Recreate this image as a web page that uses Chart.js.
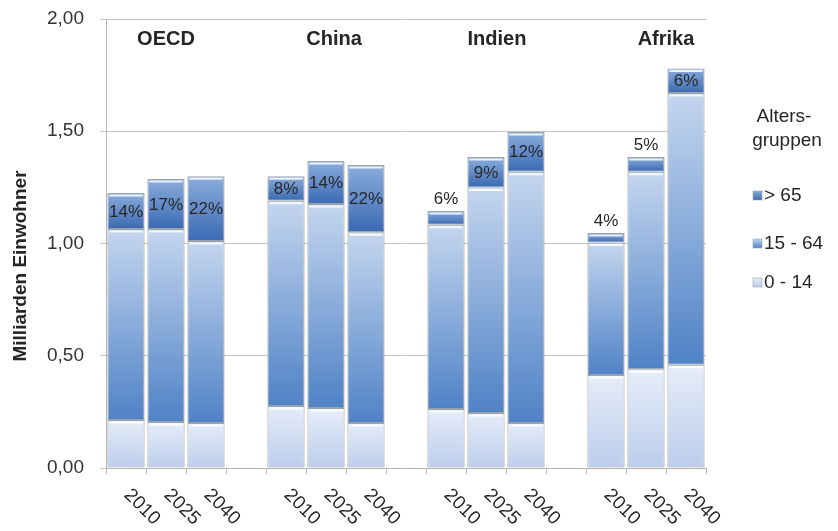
<!DOCTYPE html>
<html>
<head>
<meta charset="utf-8">
<script src="https://cdn.jsdelivr.net/npm/chart.js@4/dist/chart.umd.min.js"></script>
<style>
html,body{margin:0;padding:0;background:#fff;}
#wrap{width:838px;height:531px;position:relative;}
</style>
</head>
<body>
<div id="wrap"><canvas id="c" width="838" height="531"></canvas></div>
<script>
// ---- data ----
const categories = ["2010","2025","2040","","2010","2025","2040","","2010","2025","2040","","2010","2025","2040"];
const regions = ["OECD","China","Indien","Afrika"];
const age0to14  = [0.214,0.205,0.200,null,0.276,0.267,0.200,null,0.263,0.245,0.200,null,0.414,0.440,0.460];
const age15to64 = [0.851,0.860,0.811,null,0.914,0.909,0.850,null,0.820,1.005,1.120,null,0.591,0.880,1.210];
const age65plus = [0.160,0.222,0.289,null,0.110,0.191,0.300,null,0.062,0.135,0.177,null,0.042,0.065,0.110];
const shareLabels = ["14%","17%","22%","","8%","14%","22%","","6%","9%","12%","","4%","5%","6%"];
const seriesNames = ["0 - 14","15 - 64","> 65"];
const yTicks = [0,0.5,1,1.5,2];

function segGrad(top, bottom){
  return (ctx) => {
    const chart = ctx.chart; const y = chart.scales && chart.scales.y;
    if (!y || ctx.type !== 'data') return bottom;
    const di = ctx.datasetIndex, i = ctx.dataIndex;
    let start = 0;
    for (let d = 0; d < di; d++) start += chart.data.datasets[d].data[i] || 0;
    const v = chart.data.datasets[di].data[i];
    if (v == null) return bottom;
    const y0 = y.getPixelForValue(start + v), y1 = y.getPixelForValue(start);
    if (!isFinite(y0) || !isFinite(y1) || Math.abs(y1 - y0) < 1) return bottom;
    const g = chart.ctx.createLinearGradient(0, y0, 0, y1);
    g.addColorStop(0, top); g.addColorStop(1, bottom);
    return g;
  };
}
const segColors = [["#e6edf9","#bccdec"],["#c4d6ef","#4f82c6"],["#8caddd","#3a6ab3"]];

const textColor = "#262626";

const overlay = {
  id: 'overlay',
  afterDatasetsDraw(chart){
    const ctx = chart.ctx;
    ctx.save();
    chart.data.datasets.forEach((ds, di) => {
      const meta = chart.getDatasetMeta(di);
      meta.data.forEach((el, i) => {
        if (ds.data[i] == null) return;
        const w = el.width;
        ctx.strokeStyle = 'rgba(255,255,255,0.85)';
        ctx.lineWidth = 2;
        ctx.beginPath();
        ctx.moveTo(el.x - w/2 + 2, el.y + 2.5);
        ctx.lineTo(el.x + w/2 - 2, el.y + 2.5);
        ctx.stroke();
      });
    });
    ctx.restore();
  },
  afterDraw(chart){
    const ctx = chart.ctx;
    const xs = chart.scales.x;
    ctx.save();
    ctx.fillStyle = textColor;
    // group labels
    ctx.font = 'bold 20px "Liberation Sans", Arial, sans-serif';
    ctx.textAlign = 'center'; ctx.textBaseline = 'middle';
    const groupShift = [0, 8, 11, 20];
    regions.forEach((r, g) => {
      const cx = xs.getPixelForValue(g*4 + 1);
      ctx.fillText(r, cx + groupShift[g], 39);
    });
    // share labels
    ctx.font = '17px "Liberation Sans", Arial, sans-serif';
    const metaTop = chart.getDatasetMeta(2);
    shareLabels.forEach((t, i) => {
      if (!t) return;
      const el = metaTop.data[i];
      const h = el.base - el.y;
      const yy = h >= 20 ? (el.y + el.base)/2 + 1 : el.y - 12;
      ctx.fillText(t, el.x, yy);
    });
    // x labels rotated clockwise
    ctx.font = '19px "Liberation Sans", Arial, sans-serif';
    categories.forEach((t, i) => {
      if (!t) return;
      const cx = xs.getPixelForValue(i);
      ctx.save();
      ctx.translate(cx + 16, 507);
      ctx.rotate(Math.PI/4);
      ctx.textAlign = 'center'; ctx.textBaseline = 'middle';
      ctx.fillText(t, 0, 0);
      ctx.restore();
    });
    // y title
    ctx.save();
    ctx.font = 'bold 19px "Liberation Sans", Arial, sans-serif';
    ctx.translate(21, 266);
    ctx.rotate(-Math.PI/2);
    ctx.textAlign = 'center'; ctx.textBaseline = 'middle';
    ctx.fillText('Milliarden Einwohner', 0, 0);
    ctx.restore();
    // legend
    ctx.font = '19px "Liberation Sans", Arial, sans-serif';
    ctx.textAlign = 'center';
    ctx.fillText('Alters-', 784, 117);
    ctx.fillText('gruppen', 787, 141);
    const legY = [282, 243, 195];
    ctx.textAlign = 'left';
    [2,1,0].forEach(di => {
      const yy = legY[di];
      const g = ctx.createLinearGradient(0, yy-4, 0, yy+5);
      g.addColorStop(0, segColors[di][0]); g.addColorStop(1, segColors[di][1]);
      ctx.fillStyle = g;
      ctx.fillRect(753, yy - 4, 9, 9);
      ctx.strokeStyle = '#9aa3ad'; ctx.lineWidth = 0.6;
      ctx.strokeRect(753, yy - 4, 9, 9);
      ctx.fillStyle = textColor;
      ctx.fillText(seriesNames[di], 764, yy + 1);
    });
    ctx.restore();
  }
};

new Chart(document.getElementById('c'), {
  type: 'bar',
  data: {
    labels: categories,
    datasets: [age0to14, age15to64, age65plus].map((d, k) => ({
      label: seriesNames[k],
      data: d,
      backgroundColor: segGrad(segColors[k][0], segColors[k][1]),
      borderColor: '#9aa3ad',
      borderWidth: 1,
      borderSkipped: false,
      categoryPercentage: 1,
      barPercentage: 0.93
    }))
  },
  options: {
    responsive: false,
    animation: false,
    events: [],
    layout: { padding: { top: 19, right: 132, bottom: 0, left: 0 } },
    plugins: { legend: { display: false }, tooltip: { enabled: false }, title: { display: false } },
    scales: {
      x: {
        stacked: true,
        offset: true,
        grid: { drawOnChartArea: false, drawTicks: true, tickLength: 6, color: '#b5b5b5', offset: true },
        border: { color: '#b5b5b5' },
        ticks: { display: false },
        afterFit: s => { s.height = 63; }
      },
      y: {
        stacked: true,
        min: 0, max: 2,
        afterBuildTicks: s => { s.ticks = yTicks.map(v => ({ value: v })); },
        grid: { color: '#c4c4c4', tickLength: 6 },
        border: { color: '#b5b5b5' },
        ticks: {
          padding: 16,
          color: '#333',
          font: { size: 19, family: '"Liberation Sans", Arial, sans-serif' },
          callback: v => Number(v).toFixed(2).replace('.', ',')
        },
        afterFit: s => { s.width = 106; s.paddingTop = 0; s.paddingBottom = 0; }
      }
    }
  },
  plugins: [overlay]
});
</script>
</body>
</html>
